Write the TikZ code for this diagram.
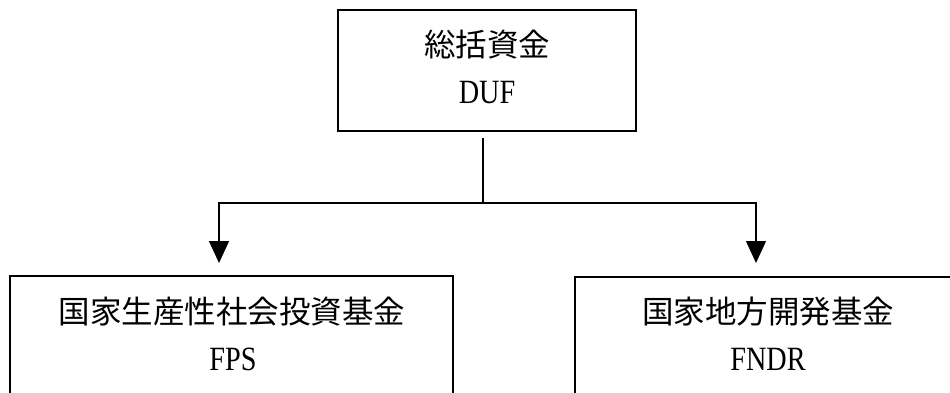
\documentclass[tikz,border=0pt]{standalone}
\usepackage{fontspec}
\setmainfont{Liberation Serif}[FakeStretch=0.83]
\newfontfamily\jp{Noto Sans CJK JP}
\usetikzlibrary{arrows.meta}
\tikzset{
  fundbox/.style={draw=black, line width=1.8pt, inner sep=0pt, fill=none},
  jptext/.style={font=\jp\fontsize{31.5}{36}\selectfont, inner sep=0pt, anchor=base},
  latext/.style={font=\fontsize{34}{40}\selectfont, inner sep=0pt, anchor=base},
  link/.style={line width=1.4pt, draw=black},
  linkarrow/.style={link, -{Triangle[width=20pt,length=22pt]}}
}
\begin{document}
\begin{tikzpicture}[x=1pt,y=1pt]
  \useasboundingbox[fill=white] (0,0) rectangle (950,392);
  % boxes
  \node[fundbox, minimum width=298pt, minimum height=121pt] (duf) at (487,321.5) {};
  \node[fundbox, minimum width=443pt, minimum height=160pt, anchor=north] (fps) at (231.5,117) {};
  \node[fundbox, minimum width=387pt, minimum height=160pt, anchor=north] (fndr) at (768.5,116) {};
  % texts
  \node[jptext] (dufjp) at (487,336) {総括資金};
  \node[latext] (dufla) at (487,289) {DUF};
  \node[jptext] (fpsjp) at (232,69) {国家生産性社会投資基金};
  \node[latext] (fpsla) at (233,22) {FPS};
  \node[jptext] (fndrjp) at (768,69) {国家地方開発基金};
  \node[latext] (fndrla) at (768,22) {FNDR};
  % connectors
  \coordinate (vstart) at (483,254);
  \coordinate (junction) at (483,189);
  \coordinate (lefttip) at (219,129);
  \coordinate (righttip) at (756,129);
  \draw[link] (vstart) -- (junction);
  \draw[linkarrow] (junction) -| (lefttip);
  \draw[linkarrow] (junction) -| (righttip);
\end{tikzpicture}
\end{document}
